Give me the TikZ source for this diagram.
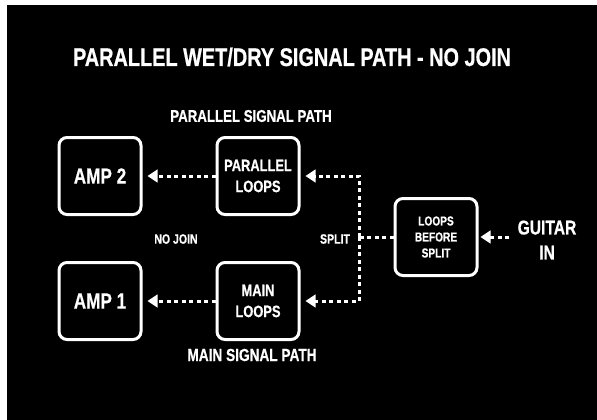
\documentclass[tikz,border=0pt]{standalone}
\usepackage{fontspec}
\setmainfont{Liberation Sans}[FakeStretch=0.78, BoldFeatures={FakeBold=0.6}]
\usepackage{tikz}
\usetikzlibrary{arrows.meta}
\usetikzlibrary{calc}
\tikzstyle{unit}=[draw=white, line width=3pt, rounded corners=8pt, fill=black, text=white, minimum width=82pt, minimum height=77pt, inner sep=0pt, align=center]
\tikzstyle{caption}=[text=white, inner sep=0pt, align=center]
\tikzstyle{signal}=[draw=white, line width=3pt, dash pattern=on 4pt off 3.5pt]
\tikzstyle{feed}=[signal, -{Triangle[length=10pt,width=12.5pt]}, shorten >=5pt]
\newcommand{\sz}[2]{\fontsize{#1}{#2}\selectfont\bfseries}

\begin{document}
\begin{tikzpicture}[x=1pt, y=-1pt]
	\fill[white] (0,0) rectangle (597,420);
	\fill[black] (7,5) rectangle (597,420);
	\useasboundingbox (0,0) rectangle (597,420);
	\node[caption, font=\sz{25.5}{30}] (title) at (292,57) {PARALLEL WET/DRY SIGNAL PATH - NO JOIN};
	\node[caption, font=\sz{17}{20}] (partop) at (251,116) {PARALLEL SIGNAL PATH};
	\node[caption, font=\sz{17.5}{20}] (mainbot) at (252,355) {MAIN SIGNAL PATH};
	\node[caption, font=\sz{13.5}{16}] (nojoin) at (176,239) {NO JOIN};
	\node[caption, font=\sz{13.5}{16}] (splitlbl) at (335,239) {SPLIT};
	\node[caption, font=\sz{20}{25}] (guitar) at (547,240) {GUITAR\\IN};
	\node[unit, font=\sz{22}{26}] (amptwo) at (100,176) {AMP 2};
	\node[unit, font=\sz{22}{26}] (ampone) at (100,301) {AMP 1};
	\node[unit, font=\sz{16.5}{21}] (parloops) at (258,176) {PARALLEL\\LOOPS};
	\node[unit, font=\sz{16.5}{21}] (mainloops) at (258,301) {MAIN\\LOOPS};
	\node[unit, font=\sz{13}{16}] (before) at (436,237) {LOOPS\\BEFORE\\SPLIT};
	\coordinate (split) at (359,237);
	\draw[feed, shorten >=2pt] (guitar.west |- before.east) ++(-8,0) -- (before.east);
	\draw[signal] (before.west) -- (split);
	\draw[feed] (split) |- (parloops.east);
	\draw[feed] (split) |- (mainloops.east);
	\draw[feed] (parloops.west) -- (amptwo.east);
	\draw[feed] (mainloops.west) -- (ampone.east);
\end{tikzpicture}
\end{document}
